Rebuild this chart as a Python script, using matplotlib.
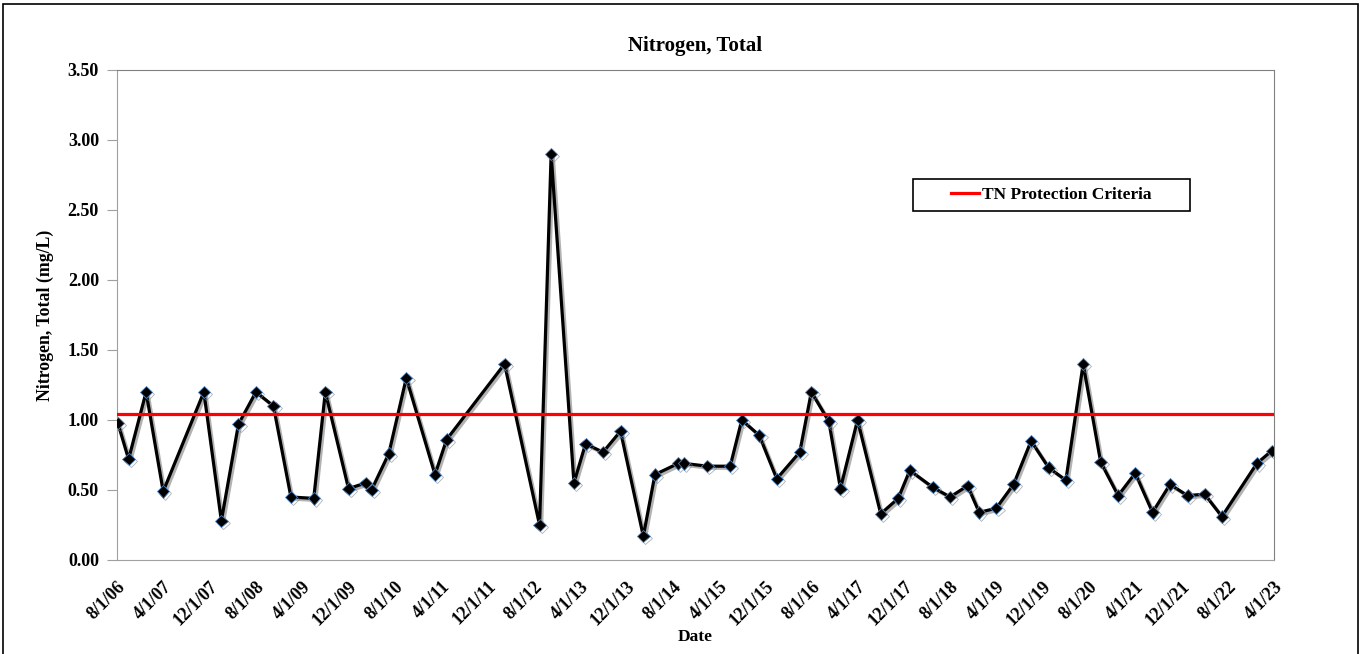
import numpy as np
import pandas as pd
import matplotlib
matplotlib.use("Agg")
import matplotlib.pyplot as plt
import matplotlib.patheffects as pe
from matplotlib.patches import Rectangle

plt.rcParams['font.family'] = ['Liberation Serif', 'DejaVu Serif']
plt.rcParams['font.weight'] = 'bold'

# Sample data
dates = ["2006-08-05", "2006-10-01", "2007-01-01", "2007-04-01", "2007-11-01",
         "2008-02-01", "2008-05-01", "2008-08-01", "2008-11-01", "2009-02-01",
         "2009-06-01", "2009-08-01", "2009-12-01", "2010-03-01", "2010-04-01",
         "2010-07-01", "2010-10-01", "2011-03-01", "2011-05-01", "2012-03-01",
         "2012-09-01", "2012-11-01", "2013-03-01", "2013-05-01", "2013-08-01",
         "2013-11-01", "2014-03-01", "2014-05-01", "2014-09-01", "2014-10-01",
         "2015-02-01", "2015-06-01", "2015-08-01", "2015-11-01", "2016-02-01",
         "2016-06-01", "2016-08-01", "2016-11-01", "2017-01-01", "2017-04-01",
         "2017-08-01", "2017-11-01", "2018-01-01", "2018-05-01", "2018-08-01",
         "2018-11-01", "2019-01-01", "2019-04-01", "2019-07-01", "2019-10-01",
         "2020-01-01", "2020-04-01", "2020-07-01", "2020-10-01", "2021-01-01",
         "2021-04-01", "2021-07-01", "2021-10-01", "2022-01-01", "2022-04-01",
         "2022-07-01", "2023-01-01", "2023-03-20"]
nitrogen = [0.98, 0.72, 1.20, 0.49, 1.20,
            0.28, 0.97, 1.20, 1.10, 0.45,
            0.44, 1.20, 0.51, 0.55, 0.50,
            0.76, 1.30, 0.61, 0.86, 1.40,
            0.25, 2.90, 0.55, 0.83, 0.77,
            0.92, 0.17, 0.61, 0.69, 0.69,
            0.67, 0.67, 1.00, 0.89, 0.58,
            0.77, 1.20, 0.99, 0.51, 1.00,
            0.33, 0.44, 0.64, 0.52, 0.45,
            0.53, 0.34, 0.37, 0.54, 0.85,
            0.66, 0.57, 1.40, 0.70, 0.46,
            0.62, 0.34, 0.54, 0.46, 0.47,
            0.31, 0.69, 0.78]

criteria_dates = ["2006-08-01", "2023-04-01"]
criteria = [1.04, 1.04]

x = pd.to_datetime(dates)
xc = pd.to_datetime(criteria_dates)
tick_dates = pd.date_range("2006-08-01", "2023-04-01", freq="8MS")
tick_labels = [f"{d.month}/{d.day}/{d.strftime('%y')}" for d in tick_dates]

fig = plt.figure(figsize=(13.66, 6.54), dpi=100)
ax = fig.add_axes([117 / 1366, 94 / 654, 1157 / 1366, 490 / 654])

shadow = [pe.SimpleLineShadow(offset=(1.5, -1.5), shadow_color='gray', alpha=0.6), pe.Normal()]
ax.plot(x, nitrogen, color='black', lw=2.3, marker='D', ms=6.3,
        mfc='black', mec='#4f81bd', mew=0.6, path_effects=shadow, zorder=3)
ax.plot(xc, criteria, color='#ff0000', lw=2.3, label='TN Protection Criteria', zorder=4)

ax.set_xlim(tick_dates[0], tick_dates[-1])
ax.set_ylim(0, 3.5)
ax.set_yticks(np.arange(0, 3.51, 0.5))
ax.set_yticklabels([f"{v:.2f}" for v in np.arange(0, 3.51, 0.5)], fontsize=13, fontweight='bold')
ax.set_xticks(tick_dates)
ax.set_xticklabels(tick_labels, rotation=45, ha='right', rotation_mode='anchor',
                   fontsize=13, fontweight='bold')
ax.tick_params(axis='x', length=0, pad=13)
ax.tick_params(axis='y', length=7, color='#a0a0a0', pad=6, direction='out')

for s in ['left', 'bottom']:
    ax.spines[s].set_color('#a0a0a0')
for s in ['top', 'right']:
    ax.spines[s].set_color('#808080')

ax.set_title("Nitrogen, Total", fontsize=15, fontweight='bold', pad=14)
ax.set_xlabel("Date", fontsize=12.5, fontweight='bold', labelpad=0)
ax.set_ylabel("Nitrogen, Total (mg/L)", fontsize=12.8, fontweight='bold', labelpad=10)

# legend box
ax.add_patch(Rectangle((796 / 1157, 349 / 490), 277 / 1157, 32 / 490, transform=ax.transAxes,
                       fill=False, edgecolor='black', lw=1.2, zorder=5))
ax.legend(loc='center', bbox_to_anchor=(0.8077, 0.745), frameon=False,
          prop={'size': 12.5, 'weight': 'bold'}, handlelength=1.6, handletextpad=0.2)

# outer border
fig.add_artist(Rectangle((3 / 1366, -0.01), 1355 / 1366, 1 - 4 / 654 + 0.01,
                         transform=fig.transFigure, fill=False, edgecolor='black', lw=1.2))

fig.savefig("out.png", dpi=100)
